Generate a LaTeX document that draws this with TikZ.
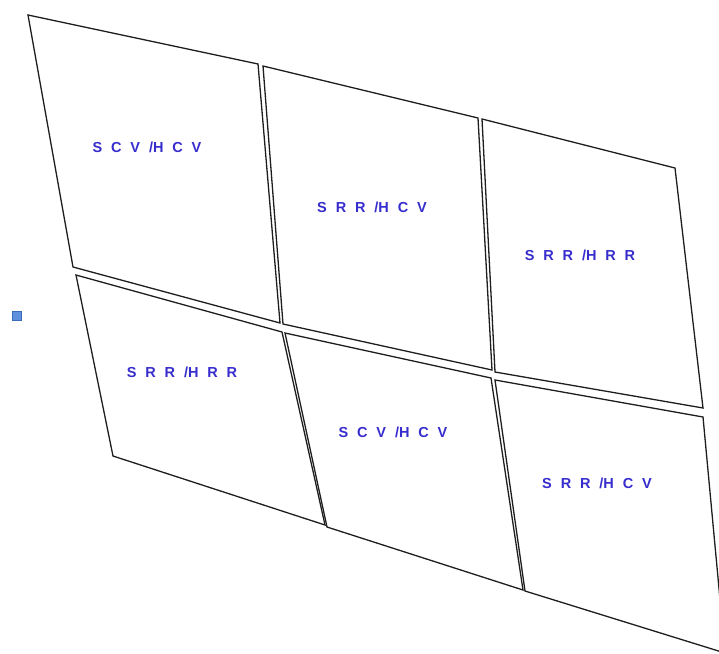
\documentclass[tikz,border=0pt]{standalone}
\usepackage{fontspec}
\usepackage{tikz}
\newfontfamily\cellfont[WordSpace=2.2]{Liberation Sans}
\definecolor{cellB}{RGB}{55,45,205}
\definecolor{edgeK}{RGB}{30,30,30}
\definecolor{markB}{RGB}{95,145,220}
\definecolor{markD}{RGB}{60,105,185}
\tikzset{panel/.style={draw=edgeK, line width=1.3pt, line join=miter},
  cell/.style={text=cellB, inner sep=0pt,
    font=\fontsize{14.5}{16}\selectfont\cellfont\bfseries}}

\begin{document}
\begin{tikzpicture}[x=1pt, y=-1pt]
\useasboundingbox (0,0) rectangle (719,653);
\clip (0,0) rectangle (719,653);
% top row of panels
\coordinate (a1) at (28,15);   \coordinate (a2) at (258,64);
\coordinate (a3) at (280,323); \coordinate (a4) at (73,267);
\coordinate (b1) at (263,66);  \coordinate (b2) at (478,118);
\coordinate (b3) at (492,370); \coordinate (b4) at (283,324);
\coordinate (c1) at (482,119); \coordinate (c2) at (675,168);
\coordinate (c3) at (703,408); \coordinate (c4) at (495,372);
% bottom row of panels (the last one runs off the right edge)
\coordinate (d1) at (76,275);  \coordinate (d2) at (282,332);
\coordinate (d3) at (325,525); \coordinate (d4) at (113,456);
\coordinate (e1) at (285,333); \coordinate (e2) at (491,378);
\coordinate (e3) at (523,590); \coordinate (e4) at (327,527);
\coordinate (f1) at (495,380); \coordinate (f2) at (703,417);
\coordinate (f3) at (725,653); \coordinate (f4) at (525,591);
\foreach \p in {a,b,c,d,e,f}
  \draw[panel] (\p1) -- (\p2) -- (\p3) -- (\p4) -- cycle;
% labels
\node[cell] (sA) at (147,147) {S C V /H C V};
\node[cell] (sB) at (372,207) {S R R /H C V};
\node[cell] (sC) at (580,255) {S R R /H R R};
\node[cell] (sD) at (182,372) {S R R /H R R};
\node[cell] (sE) at (393,432) {S C V /H C V};
\node[cell] (sF) at (597,483) {S R R /H C V};
% small marker at the left
\filldraw[fill=markB, draw=markD, line width=0.6pt] (12,311) rectangle (21,320);
\end{tikzpicture}
\end{document}
